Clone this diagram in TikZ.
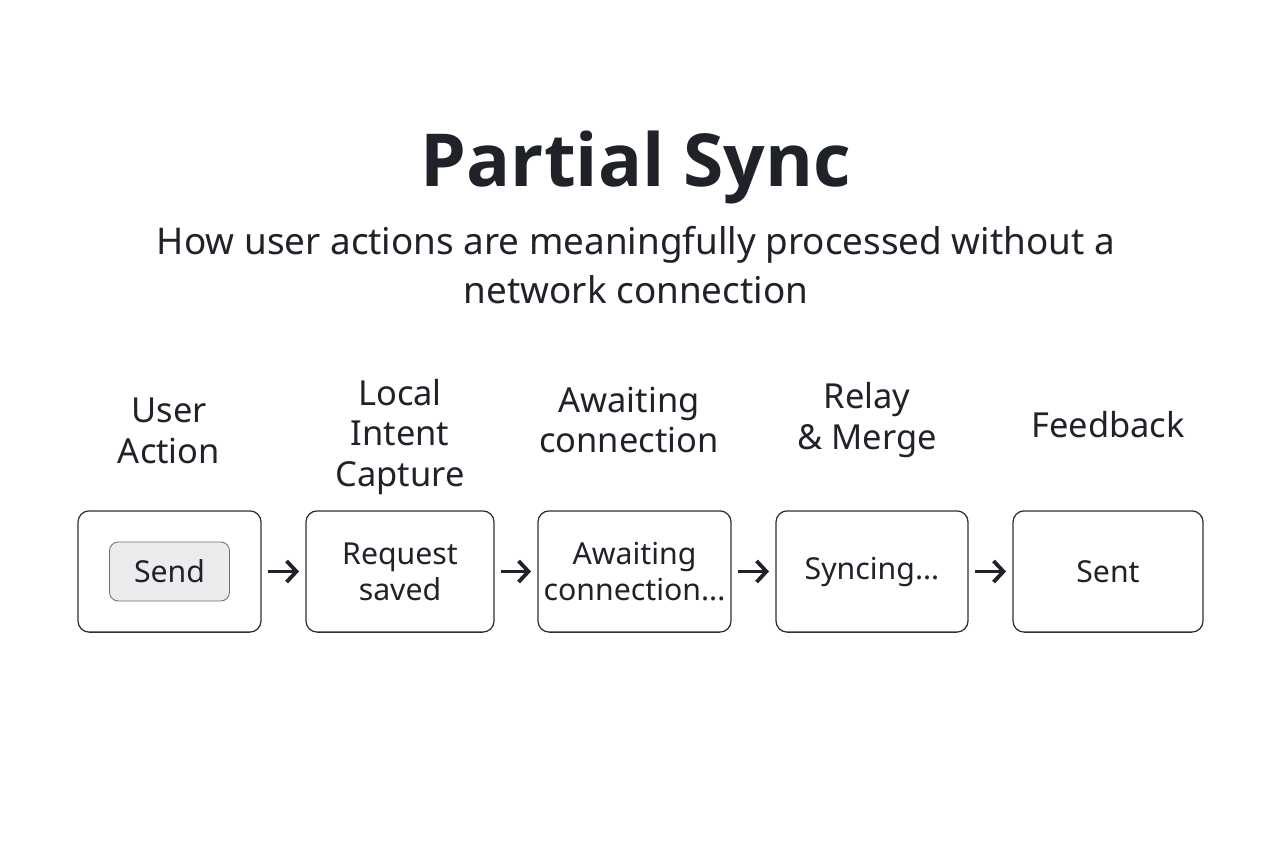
\documentclass[tikz,border=0pt]{standalone}
\usepackage{fontspec}
\setmainfont{Noto Sans}
\newfontfamily\headfont{Open Sans}
\usepackage{xcolor}
\usetikzlibrary{arrows.meta,positioning}
\definecolor{ink}{HTML}{1F2228}
\definecolor{edge}{HTML}{2E3136}
\definecolor{btnfill}{HTML}{ECECEE}

\tikzset{
  stage/.style={draw=edge, line width=0.9pt, rounded corners=0.28cm,
    minimum height=3.03cm, align=center, text=ink,
    font=\fontsize{21.5}{25.5}\selectfont},
  steplabel/.style={align=center, text=ink,
    font=\fontsize{24.5}{29}\selectfont},
  flow/.style={-{Straight Barb[length=7pt,width=15pt,line width=2.7pt]},
    line width=2.7pt, draw=ink, shorten <=4.5pt, shorten >=4.5pt}
}

\begin{document}
\begin{tikzpicture}[x=0.025cm, y=-0.025cm]
  \useasboundingbox[fill=white] (0,0) rectangle (1280,853);

  % heading
  \node[text=ink, font=\headfont\fontsize{52}{60}\selectfont\bfseries] (title) at (636,168) {Partial Sync};
  \node[text=ink, align=center, font=\fontsize{26.2}{35}\selectfont] (subtitle) at (636,265)
    {How user actions are meaningfully processed without a\\network connection};

  % stages
  \node[stage, minimum width=4.575cm] (action) at (169.5,571.5) {};
  \node[stage, minimum width=4.70cm] (capture) at (400,571.5) {Request\\saved};
  \node[stage, minimum width=4.825cm] (waiting) at (634.5,571.5) {Awaiting\\connection...};
  \node[stage, minimum width=4.80cm] (relay) at (872,571.5) {\raisebox{-2pt}{Syncing...}};
  \node[stage, minimum width=4.75cm] (feedback) at (1108,571.5) {Sent};

  % send button
  \node[draw=edge!70, line width=0.6pt, fill=btnfill, rounded corners=0.22cm,
    minimum width=3.0cm, minimum height=1.475cm, text=ink,
    font=\fontsize{21.5}{25.5}\selectfont] (send) at (action) {Send};

  % titles over the stages
  \node[steplabel] (lblaction) at (169,431) {User\\Action};
  \node[steplabel] (lblcapture) at (400,437) {Local\\Intent\\Capture};
  \node[steplabel] (lblwaiting) at (629,420) {Awaiting\\connection};
  \node[steplabel] (lblrelay) at (867,420) {Relay\\\& Merge};
  \node[steplabel] (lblfeedback) at (1108,425) {Feedback};

  % arrows
  \draw[flow] (action) -- (capture);
  \draw[flow] (capture) -- (waiting);
  \draw[flow] (waiting) -- (relay);
  \draw[flow] (relay) -- (feedback);
\end{tikzpicture}
\end{document}
